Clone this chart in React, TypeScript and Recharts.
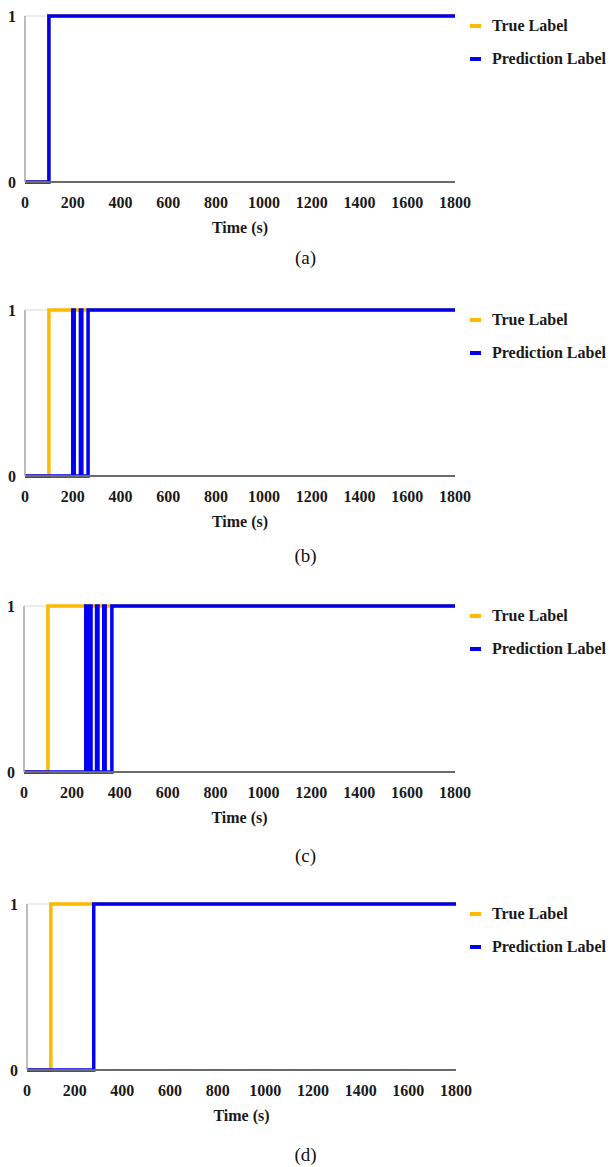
import React from 'react';
import { LineChart, Line, XAxis, YAxis, CartesianGrid, Legend, Label } from 'recharts';

const xTicks = [0, 200, 400, 600, 800, 1000, 1200, 1400, 1600, 1800];
const yTicks = [0, 1];

const trueTimesA = [0, 100, 1800];
const trueValuesA = [0, 1, 1];
const predTimesA = [0, 100, 1800];
const predValuesA = [0, 1, 1];

const trueTimesB = [0, 100, 1800];
const trueValuesB = [0, 1, 1];
const predTimesB = [0, 200, 206, 232, 238, 264, 1800];
const predValuesB = [0, 1, 0, 1, 0, 1, 1];

const trueTimesC = [0, 100, 1800];
const trueValuesC = [0, 1, 1];
const predTimesC = [0, 258, 266, 270, 280, 303, 309, 333, 339, 367, 1800];
const predValuesC = [0, 1, 0, 1, 0, 1, 0, 1, 0, 1, 1];

const trueTimesD = [0, 100, 1800];
const trueValuesD = [0, 1, 1];
const predTimesD = [0, 280, 1800];
const predValuesD = [0, 1, 1];

const captions = ['(a)', '(b)', '(c)', '(d)'];
const seriesNames = ['True Label', 'Prediction Label'];

const TRUE_COLOR = '#FFB800';
const PRED_COLOR = '#0000F5';
const FONT = '"Liberation Serif", "Times New Roman", serif';

const zip = (ts: number[], vs: number[]) => ts.map((t, i) => ({ t, v: vs[i] }));

const XTick = (props: any) => {
  const { x, y, payload } = props;
  return (
    <text x={x} y={y + 26} textAnchor="middle" fontFamily={FONT} fontWeight="bold" fontSize={16} fill="#1a1a1a">
      {payload.value}
    </text>
  );
};

const YTick = (props: any) => {
  const { x, y, payload } = props;
  return (
    <text x={x - 9} y={y + 6} textAnchor="end" fontFamily={FONT} fontWeight="bold" fontSize={16} fill="#1a1a1a">
      {payload.value}
    </text>
  );
};

const renderLegend = (props: any) => {
  const items = [...(props.payload || [])].sort(
    (a: any, b: any) => seriesNames.indexOf(a.value) - seriesNames.indexOf(b.value)
  );
  return (
    <div style={{ position: 'relative' }}>
      {items.map((entry: any, i: number) => (
        <div key={i} style={{ position: 'absolute', left: 0, top: i * 33, height: 20, width: 140, whiteSpace: 'nowrap' }}>
          <div style={{ position: 'absolute', left: 0, top: 8, width: 11, height: 4, background: entry.color }} />
          <span style={{ position: 'absolute', left: 22, top: 0, fontFamily: FONT, fontWeight: 'bold', fontSize: 16, lineHeight: '20px', color: '#1a1a1a' }}>
            {entry.value}
          </span>
        </div>
      ))}
    </div>
  );
};

type PanelProps = {
  top: number;
  plotLeft: number;
  plotRight: number;
  trueData: { t: number; v: number }[];
  predData: { t: number; v: number }[];
  caption: string;
  captionY: number;
};

const PLOT_TOP = 16;
const PLOT_H = 166;
const CHART_H = 296;

const Panel = ({ top, plotLeft, plotRight, trueData, predData, caption, captionY }: PanelProps) => (
  <div style={{ position: 'absolute', left: 0, top, width: 611, height: CHART_H }}>
    <LineChart
      width={611}
      height={CHART_H}
      margin={{ top: PLOT_TOP, right: 611 - plotRight, left: 0, bottom: 0 }}
    >
      <CartesianGrid vertical={false} stroke="#D9D9D9" strokeWidth={1} />
      <XAxis
        dataKey="t"
        type="number"
        domain={[0, 1800]}
        ticks={xTicks}
        allowDataOverflow
        height={CHART_H - PLOT_TOP - PLOT_H}
        tickLine={false}
        tickSize={0}
        tickMargin={0}
        tick={<XTick />}
        interval={0}
        axisLine={{ stroke: '#6B6B6B', strokeWidth: 2 }}
      >
        <Label
          content={(p: any) => {
            const vb = p.viewBox;
            return (
              <text x={vb.x + vb.width / 2} y={vb.y + 51} textAnchor="middle" fontFamily={FONT} fontWeight="bold" fontSize={16} fill="#1a1a1a">
                Time (s)
              </text>
            );
          }}
        />
      </XAxis>
      <YAxis
        type="number"
        domain={[0, 1]}
        ticks={yTicks}
        width={plotLeft}
        tickLine={false}
        tickSize={0}
        tickMargin={0}
        tick={<YTick />}
        interval={0}
        axisLine={{ stroke: '#A6A6A6', strokeWidth: 1.5 }}
      />
      <Legend
        layout="horizontal"
        verticalAlign="middle"
        align="center"
        content={renderLegend}
        wrapperStyle={{ left: 470, top: PLOT_TOP, width: 141, height: 60 }}
      />
      <Line
        data={trueData}
        dataKey="v"
        name={seriesNames[0]}
        type="stepAfter"
        stroke={TRUE_COLOR}
        strokeWidth={3.5}
        dot={false}
        isAnimationActive={false}
      />
      <Line
        data={predData}
        dataKey="v"
        name={seriesNames[1]}
        type="stepAfter"
        stroke={PRED_COLOR}
        strokeWidth={3.5}
        dot={false}
        isAnimationActive={false}
      />
    </LineChart>
    <div
      style={{
        position: 'absolute',
        left: 0,
        width: 611,
        top: captionY - 12,
        textAlign: 'center',
        fontFamily: FONT,
        fontSize: 19,
        lineHeight: '24px',
        color: '#111',
      }}
    >
      {caption}
    </div>
  </div>
);

export default function App() {
  return (
    <div style={{ position: 'absolute', left: 0, top: 0, width: 611, height: 1167, overflow: 'hidden', background: '#fff' }}>
      <Panel top={0} plotLeft={25} plotRight={455} trueData={zip(trueTimesA, trueValuesA)} predData={zip(predTimesA, predValuesA)} caption={captions[0]} captionY={258} />
      <Panel top={294} plotLeft={25} plotRight={455} trueData={zip(trueTimesB, trueValuesB)} predData={zip(predTimesB, predValuesB)} caption={captions[1]} captionY={262} />
      <Panel top={590} plotLeft={24} plotRight={455} trueData={zip(trueTimesC, trueValuesC)} predData={zip(predTimesC, predValuesC)} caption={captions[2]} captionY={266} />
      <Panel top={888} plotLeft={27} plotRight={456} trueData={zip(trueTimesD, trueValuesD)} predData={zip(predTimesD, predValuesD)} caption={captions[3]} captionY={267} />
    </div>
  );
}
